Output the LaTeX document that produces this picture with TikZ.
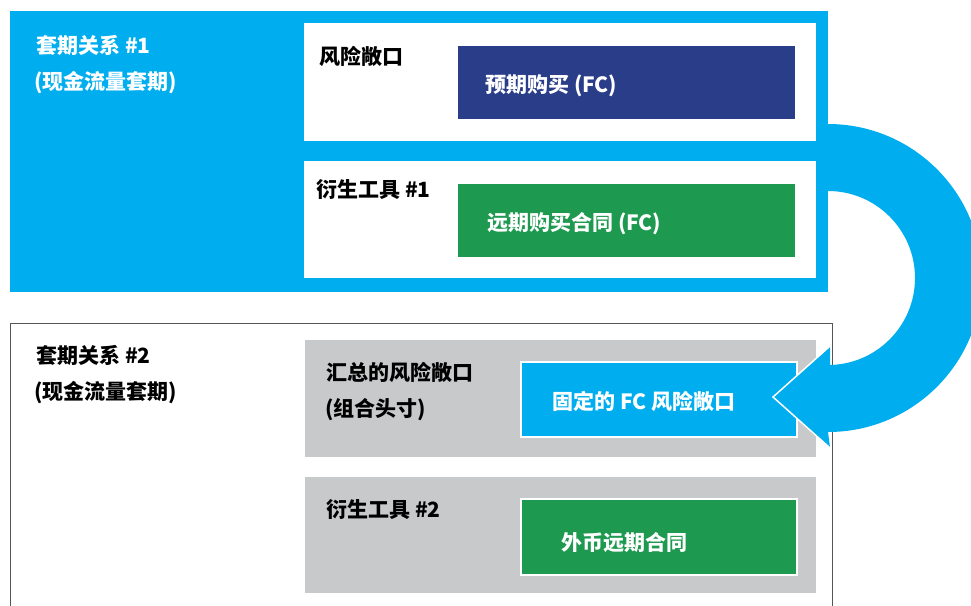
\documentclass[tikz,border=0pt]{standalone}
\usepackage{fontspec}
\setmainfont{Noto Sans CJK SC}
\definecolor{cyanblue}{HTML}{00AEEF}
\definecolor{navy}{HTML}{2A3D88}
\definecolor{fgreen}{HTML}{1E9A50}
\definecolor{lgray}{HTML}{C8C9CB}
\definecolor{frame}{HTML}{555555}
\begin{document}
\begin{tikzpicture}[x=1pt,y=-1pt,
  box/.style={anchor=north west, inner sep=0pt, outer sep=0pt, draw=none},
  lbl/.style={anchor=west, inner sep=0pt, font=\bfseries\fontsize{21}{24}\selectfont},
  wlbl/.style={lbl, text=white}]
\useasboundingbox (0,0) rectangle (971,605);
\clip (0,0) rectangle (971,605);
% top relationship
\node[box, fill=cyanblue, minimum width=818pt, minimum height=281pt] (rel1) at (10,11) {};
\node[box, fill=white, minimum width=512pt, minimum height=118pt] (exp1) at (304,23) {};
\node[box, fill=navy, minimum width=337pt, minimum height=73pt] (fc) at (458,46) {};
\node[box, fill=white, minimum width=512pt, minimum height=117pt] (der1) at (304,161) {};
\node[box, fill=fgreen, minimum width=337pt, minimum height=73pt] (fwd1) at (458,184) {};
\node[wlbl] (t1a) at (36,45) {套期关系 \#1};
\node[wlbl] (t1b) at (34,83) {(现金流量套期)};
\node[lbl] (t2) at (319,56) {风险敞口};
\node[lbl] (t3) at (316,190) {衍生工具 \#1};
\node[wlbl] (t4) at (485,86) {预期购买 (FC)};
\node[wlbl] (t5) at (487,224) {远期购买合同 (FC)};
% bottom relationship
\draw[frame, line width=1pt] (10,640) -- (10,323) -- (832,323) -- (832,640);
\node[box, fill=lgray, minimum width=511pt, minimum height=117pt] (agg) at (305,340) {};
\node[box, fill=cyanblue, draw=white, line width=1.5pt, minimum width=276pt, minimum height=75pt] (fix) at (521,362) {};
\node[box, fill=lgray, minimum width=511pt, minimum height=116pt] (der2) at (305,477) {};
\node[box, fill=fgreen, draw=white, line width=1.5pt, minimum width=276pt, minimum height=76pt] (fwd2) at (521,499) {};
\node[lbl] (b1a) at (36,355) {套期关系 \#2};
\node[lbl] (b1b) at (34,393) {(现金流量套期)};
\node[lbl] (b2a) at (326,372) {汇总的风险敞口};
\node[lbl] (b2b) at (325,410) {(组合头寸)};
\node[lbl] (b3) at (326,510) {衍生工具 \#2};
\node[wlbl] (b4) at (552,401) {固定的 FC 风险敞口};
\node[wlbl] (b5) at (561,542) {外币远期合同};
% curved arrow
\coordinate (ac) at (828,278);
\fill[cyanblue] (826,124) -- (828,124) arc[start angle=-90, end angle=90, radius=154]
  -- (830,447) -- (773,397) -- (830,347) -- (830,365) -- (828,365)
  arc[start angle=90, end angle=-90, radius=87] -- (826,191) -- cycle;
\draw[white, line width=1.5pt, line join=miter] (830,448) -- (773,397) -- (830,346);
\end{tikzpicture}
\end{document}
